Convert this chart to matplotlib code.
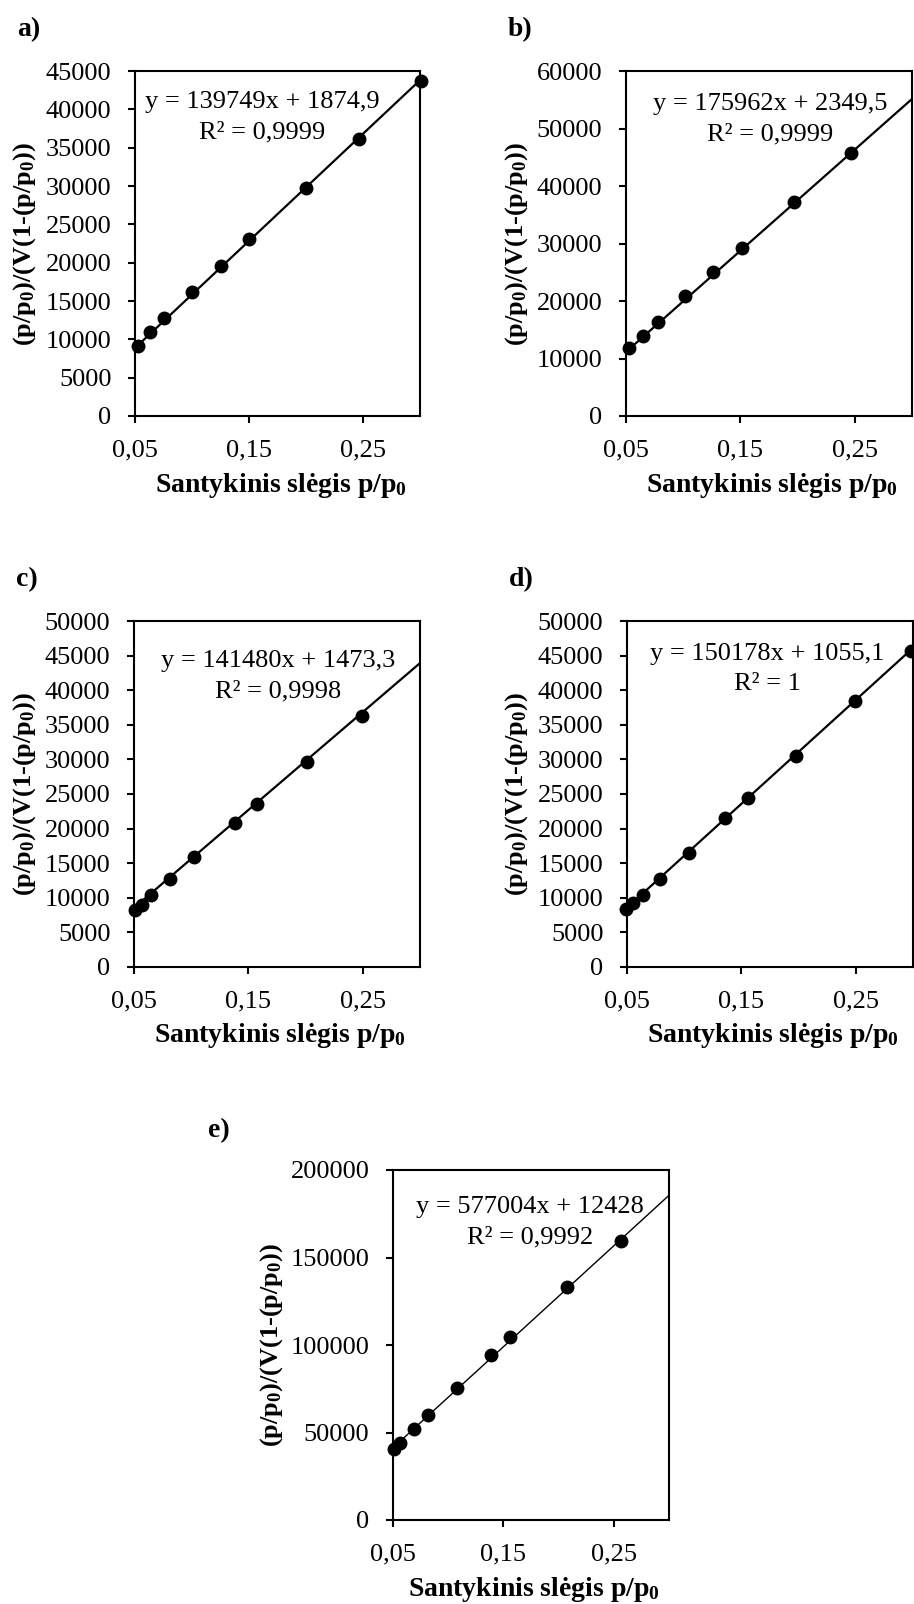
import matplotlib
matplotlib.use("Agg")
import matplotlib.pyplot as plt

plt.rcParams['font.family'] = ['Liberation Serif', 'DejaVu Serif']
plt.rcParams['mathtext.fontset'] = 'custom'
plt.rcParams['mathtext.rm'] = 'Liberation Serif'
plt.rcParams['mathtext.bf'] = 'Liberation Serif:bold'
plt.rcParams['mathtext.it'] = 'Liberation Serif:italic'

## Duomenys (BET tiesės)
a_x = [0.0523, 0.0635, 0.0755, 0.1001, 0.1254, 0.1500, 0.1999, 0.2462, 0.3007]
a_y = [9130, 10910, 12740, 16170, 19610, 23040, 29780, 36170, 43740]
a_fit = (139749, 1874.9, 0.9999)

b_x = [0.0526, 0.0646, 0.0777, 0.1018, 0.1263, 0.1510, 0.1970, 0.2465]
b_y = [11770, 13910, 16290, 20870, 25100, 29160, 37280, 45680]
b_fit = (175962, 2349.5, 0.9999)

c_x = [0.0506, 0.0570, 0.0652, 0.0814, 0.1028, 0.1386, 0.1576, 0.2016, 0.2494]
c_y = [8290, 9020, 10460, 12780, 15910, 20880, 23530, 29560, 36310]
c_fit = (141480, 1473.3, 0.9998)

d_x = [0.0494, 0.0553, 0.0637, 0.0792, 0.1043, 0.1355, 0.1556, 0.1974, 0.2494, 0.2982]
d_y = [8340, 9260, 10460, 12780, 16490, 21550, 24490, 30520, 38430, 45710]
d_fit = (150178, 1055.1, 1)

e_x = [0.0506, 0.0561, 0.0688, 0.0813, 0.1078, 0.1391, 0.1556, 0.2073, 0.2567]
e_y = [40380, 44190, 52000, 60000, 75620, 94290, 104380, 133330, 159620]
e_fit = (577004, 12428, 0.9992)

x_ticks = [0.05, 0.15, 0.25]
x_tick_labels = ['0,05', '0,15', '0,25']
x_max = 0.30

x_title = r'Santykinis slėgis p/p$_\mathbf{0}$'
y_title = r'$\mathbf{(p/p_0)/(V(1}$-$\mathbf{(p/p_0))}$'

W, H = 914, 1604
fig = plt.figure(figsize=(W / 100, H / 100), dpi=100)


def px_box(l, r, t, b):
    return [l / W, 1 - b / H, (r - l) / W, (b - t) / H]


def put(x, y, s, **kw):
    fig.text(x / W, 1 - y / H, s, **kw)


def komma(v):
    return f"{v:g}".replace('.', ',')


# raidė, duomenys, y ašies riba ir žingsnis, ašių rėmas pikseliais,
# linijos storis, y pavadinimo atitraukimas
panels = [
    ('a)', a_x, a_y, a_fit, 45000, 5000, (135, 420, 71, 416), 1.6, 110),
    ('b)', b_x, b_y, b_fit, 60000, 10000, (626, 912, 71, 416), 1.6, 109),
    ('c)', c_x, c_y, c_fit, 50000, 5000, (134, 420, 621, 967), 1.6, 109),
    ('d)', d_x, d_y, d_fit, 50000, 5000, (627, 913, 621, 967), 1.6, 110),
    ('e)', e_x, e_y, e_fit, 200000, 50000, (393, 669, 1170, 1520), 1.0, 121),
]

eq_pos = {'a)': (262, 108), 'b)': (770, 110), 'c)': (278, 667),
          'd)': (767, 660), 'e)': (530, 1213)}

for letter, xs, ys, (k, b0, r2), ymax, ystep, (l, r, t, bt), lw, yoff in panels:
    ax = fig.add_axes(px_box(l, r, t, bt))
    # tendencijos linija pagal lygtį
    x0 = min(xs)
    ax.plot([x0, x_max], [k * x0 + b0, k * x_max + b0], color='black', lw=lw, zorder=2)
    ax.plot(xs, ys, 'o', color='black', ms=9, zorder=3, clip_on=False)

    ax.set_xlim(0.05, x_max)
    ax.set_ylim(0, ymax)
    ax.set_xticks(x_ticks, x_tick_labels)
    ax.set_yticks(range(0, ymax + 1, ystep))
    ax.tick_params(direction='out', length=5, width=1.5, pad=12, labelsize=19,
                   colors='black')
    for sp in ax.spines.values():
        sp.set_linewidth(1.5)

    ex, ey = eq_pos[letter]
    put(ex, ey, f"y = {k}x + {komma(b0)}", fontsize=19, ha='center', va='baseline')
    put(ex, ey + 30, f"R² = {komma(r2)}", fontsize=19, ha='center', va='baseline')

    # pavadinimai
    cx = (l + r) / 2
    cy = (t + bt) / 2
    put(cx + 3, bt + 69, x_title, fontsize=20, fontweight='bold', ha='center', va='center')
    put(l - yoff, cy, y_title, fontsize=19, fontweight='bold', ha='center', va='center',
        rotation=90)
    if letter == 'e)':
        put(208, 1137, letter, fontsize=20, fontweight='bold', ha='left', va='baseline')
    else:
        put(l - 118, t - 35, letter, fontsize=20, fontweight='bold', ha='left', va='baseline')

fig.savefig('out.png', dpi=100)
